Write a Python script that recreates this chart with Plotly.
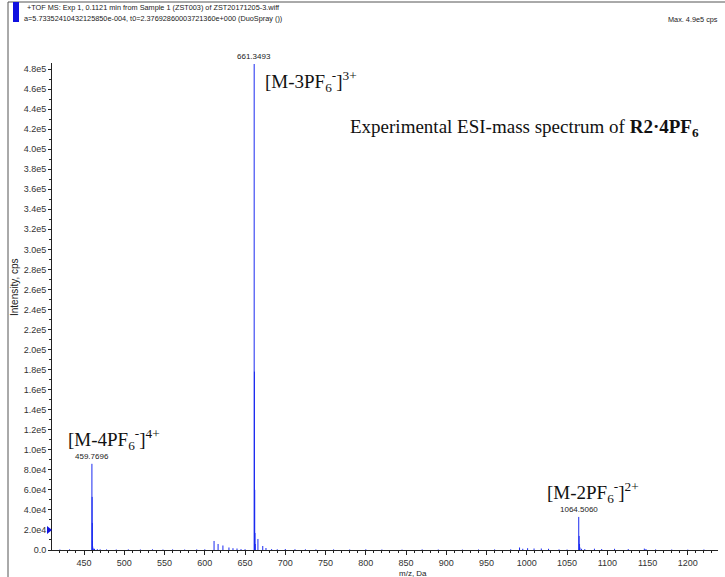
import plotly.graph_objects as go

# ---- spectrum data (m/z, Da  vs  intensity, cps) ----
mz_4plus = [459.77, 460.02, 460.27, 460.52, 460.77, 461.50, 463.0, 466.5]
int_4plus = [86000, 53000, 27000, 9000, 3500, 1500, 1200, 800]

mz_frag = [611.5, 616.5, 622.5, 630.0, 635.0, 640.0, 645.0]
int_frag = [9000, 6000, 4500, 2500, 1800, 1500, 900]

mz_3plus = [661.35, 661.68, 662.02, 662.35, 662.68, 666.0, 672.0, 676.0]
int_3plus = [485000, 178000, 60000, 17000, 6000, 11000, 4000, 2000]

mz_2plus = [1064.51, 1065.01, 1065.51, 1066.01, 1068.0, 1072.0]
int_2plus = [33000, 14000, 6000, 2500, 1200, 900]

mz_minor = [991.0, 995.0, 1001.0, 1009.0, 1018.0, 1027.0, 1084.0, 1093.0,
            1109.0, 1126.0, 1146.0, 1148.0]
int_minor = [2500, 1200, 1800, 1500, 1500, 1200, 1300, 1000, 1200, 900,
             1400, 1000]

mz_noise = [420, 432, 470, 478, 490, 505, 520, 535, 548, 560, 575, 590,
            600, 650, 683, 690, 700, 712, 725, 738, 760, 780, 800, 820,
            845, 870, 890, 920, 940, 960, 980, 1040, 1050, 1160, 1180,
            1200, 1220]
int_noise = [500, 600, 700, 600, 500, 600, 500, 700, 500, 600, 500, 600,
             700, 800, 900, 700, 1000, 800, 700, 600, 600, 500, 700, 500,
             400, 600, 500, 400, 500, 600, 700, 600, 500, 600, 500, 400,
             500]

peak_labels = [(459.7696, 86000), (661.3493, 485000), (1064.5060, 33000)]

y_tickvals = [i * 20000 for i in range(25)]


def sci(v):
    if v == 0:
        return "0.0"
    e = len(str(int(v))) - 1
    return f"{v / 10 ** e:.1f}e{e}"


y_ticktext = [sci(v) for v in y_tickvals]

# ---- geometry of the plotting frame (pixels) ----
W, H = 725, 577
L, R, T, B = 52, 7, 63, 27
PW, PH = W - L - R, H - T - B
XMIN, XMAX = 410.2, 1237.5
YMAX = 486000


def px_x(p):
    return (p - L) / PW


def px_y(p):
    return (H - B - p) / PH


# ---- build stick segments ----
all_mz = mz_4plus + mz_frag + mz_3plus + mz_2plus + mz_minor + mz_noise
all_int = int_4plus + int_frag + int_3plus + int_2plus + int_minor + int_noise
xs, ys = [], []
for m, v in zip(all_mz, all_int):
    xs += [m, m, None]
    ys += [0, v, None]

fig = go.Figure()
fig.add_trace(go.Scatter(x=xs, y=ys, mode="lines",
                         line=dict(color="#1a2af0", width=1),
                         hoverinfo="skip", showlegend=False))

SANS = "Liberation Sans Narrow, Liberation Sans, Arial"
SERIF = "Liberation Serif, Times New Roman, serif"

ann = []
for m, v in peak_labels:
    ann.append(dict(x=m, y=v, xref="x", yref="y", text=f"{m:.4f}",
                    showarrow=False, yanchor="bottom", yshift=1,
                    font=dict(family=SANS, size=8, color="#222")))

ion_font = dict(family=SERIF, size=19, color="#111")
ann += [
    dict(x=672, y=468000, text="[M-3PF<sub>6</sub><sup>-</sup>]<sup>3+</sup>",
         xanchor="left", font=ion_font),
    dict(x=427, y=110000, text="[M-4PF<sub>6</sub><sup>-</sup>]<sup>4+</sup>",
         xanchor="left", font=ion_font),
    dict(x=1022, y=57000, text="[M-2PF<sub>6</sub><sup>-</sup>]<sup>2+</sup>",
         xanchor="left", font=ion_font),
    dict(x=778, y=421000,
         text="Experimental ESI-mass spectrum of <b>R2·4PF<sub>6</sub></b>",
         xanchor="left", font=dict(family=SERIF, size=19, color="#111")),
]
for a in ann[len(peak_labels):]:
    a.update(xref="x", yref="y", showarrow=False, yanchor="middle")

hdr_font = dict(family=SANS, size=7.3, color="#222")
ann += [
    dict(x=px_x(25), y=px_y(7), xref="paper", yref="paper", showarrow=False,
         xanchor="left", yanchor="middle", font=hdr_font,
         text="+TOF MS: Exp 1, 0.1121 min from Sample 1 (ZST003) of ZST20171205-3.wiff"),
    dict(x=px_x(22), y=px_y(18), xref="paper", yref="paper", showarrow=False,
         xanchor="left", yanchor="middle", font=hdr_font,
         text="a=5.73352410432125850e-004, t0=2.37692860003721360e+000 (DuoSpray ())"),
    dict(x=px_x(720), y=px_y(20), xref="paper", yref="paper", showarrow=False,
         xanchor="right", yanchor="middle", font=hdr_font,
         text="Max. 4.9e5 cps"),
    dict(x=px_x(14), y=px_y(287), xref="paper", yref="paper", showarrow=False,
         textangle=-90, xanchor="center", yanchor="middle",
         font=dict(family=SANS, size=10, color="#222"), text="Intensity, cps"),
    dict(x=px_x(413), y=px_y(573), xref="paper", yref="paper", showarrow=False,
         xanchor="center", yanchor="middle",
         font=dict(family=SANS, size=8, color="#222"), text="m/z, Da"),
]

shapes = [
    # outer frame
    dict(type="line", xref="paper", yref="paper", x0=px_x(8), x1=px_x(725),
         y0=px_y(2), y1=px_y(2), line=dict(color="#555", width=1)),
    dict(type="line", xref="paper", yref="paper", x0=px_x(8), x1=px_x(8),
         y0=px_y(2), y1=px_y(577), line=dict(color="#555", width=1)),
    # blue marker bar in header
    dict(type="rect", xref="paper", yref="paper", x0=px_x(13), x1=px_x(19),
         y0=px_y(2), y1=px_y(22), fillcolor="#1010e0", line=dict(width=0)),
    # cursor marker on the intensity axis
    dict(type="path", xref="paper", yref="paper",
         path=f"M {px_x(47)},{px_y(526)} L {px_x(52)},{px_y(530)} "
              f"L {px_x(47)},{px_y(534)} Z",
         fillcolor="#1010e0", line=dict(width=0)),
]

tick_font = dict(family=SANS, size=9, color="#333")
fig.update_layout(
    width=W, height=H,
    margin=dict(l=L, r=R, t=T, b=B),
    paper_bgcolor="white", plot_bgcolor="white",
    annotations=ann, shapes=shapes,
    xaxis=dict(range=[XMIN, XMAX], showgrid=False, zeroline=False,
               showline=True, linecolor="#222", linewidth=1,
               ticks="outside", ticklen=4, tickcolor="#222",
               tickmode="array", tickvals=list(range(450, 1201, 50)),
               tickfont=tick_font,
               minor=dict(ticks="outside", ticklen=2, dtick=10,
                          tick0=410, tickcolor="#222")),
    yaxis=dict(range=[0, YMAX], showgrid=False, zeroline=False,
               showline=True, linecolor="#222", linewidth=1,
               ticks="outside", ticklen=3, tickcolor="#222",
               tickmode="array", tickvals=y_tickvals, ticktext=y_ticktext,
               tickfont=tick_font,
               minor=dict(ticks="outside", ticklen=2, dtick=10000,
                          tick0=0, tickcolor="#222")),
)

fig.write_html("out.html")
